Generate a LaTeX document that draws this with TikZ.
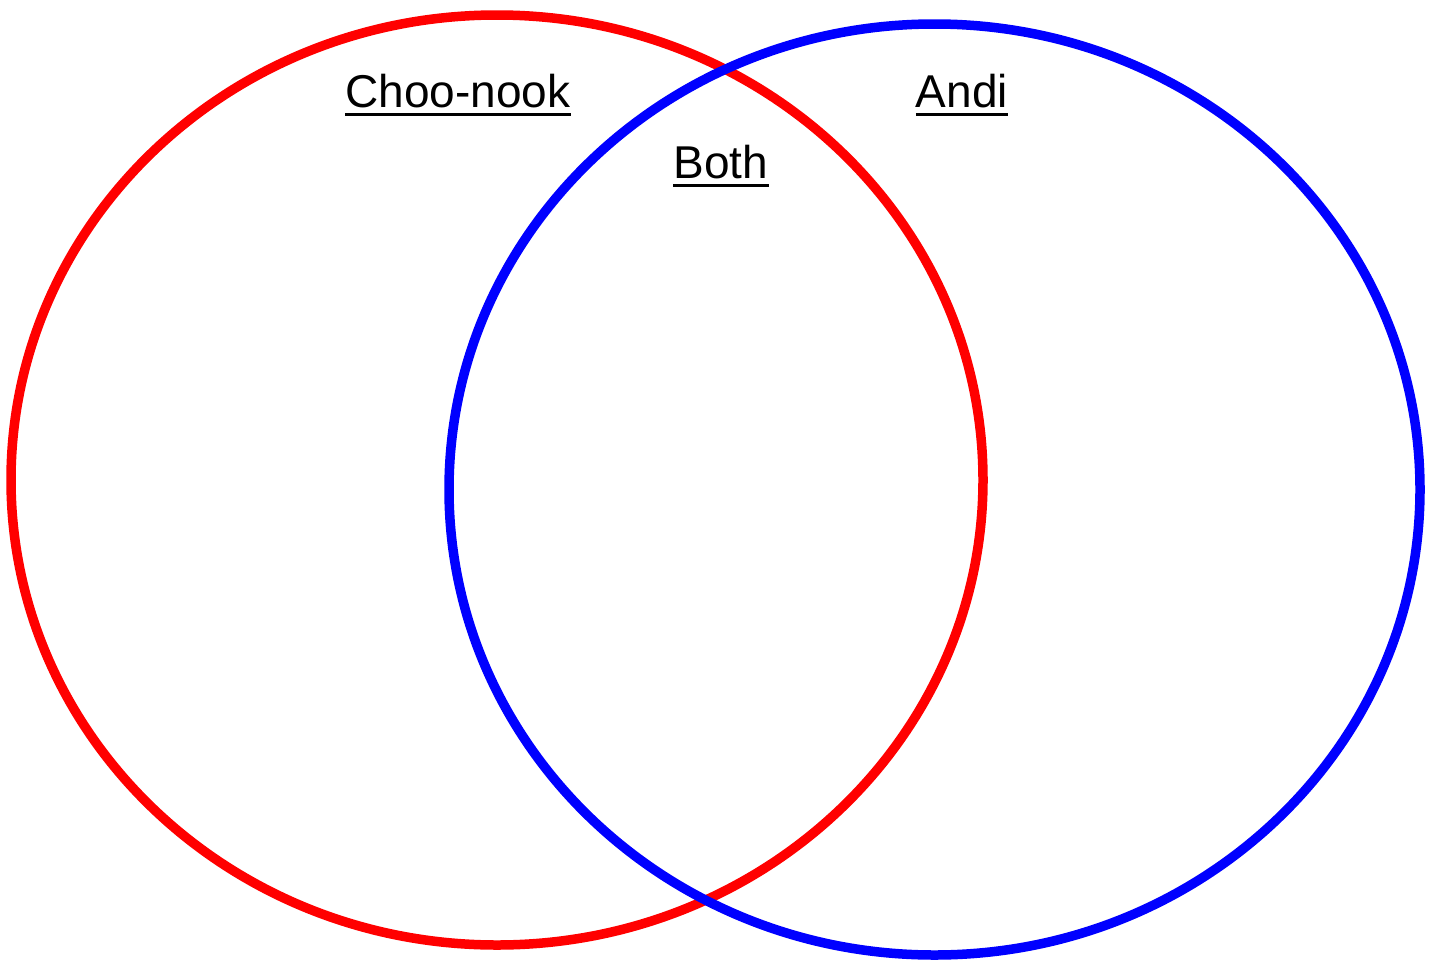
\documentclass[tikz,border=0pt]{standalone}
\usepackage{fontspec}
\setmainfont{Liberation Sans}
\begin{document}
\begin{tikzpicture}[x=1pt,y=-1pt,
  ring/.style={line width=9.5pt},
  lbl/.style={inner sep=0pt, anchor=base, font=\fontsize{46}{50}\selectfont},
  ul/.style={line width=3pt, line cap=butt}]
\useasboundingbox (0,0) rectangle (1434,961);
\draw[ring, color={rgb,255:red,255;green,0;blue,0}] (497,480) ellipse [x radius=486pt, y radius=465pt];
\draw[ring, color={rgb,255:red,0;green,0;blue,255}] (934.5,489.5) ellipse [x radius=485.5pt, y radius=465.5pt];
\node[lbl] (choo) at (458,107) {Choo-nook};
\node[lbl] (andi) at (962,107) {Andi};
\node[lbl] (both) at (721,178) {Both};
\foreach \n in {choo,andi,both}
  \draw[ul] ([yshift=-7.5pt]\n.base west) -- ([yshift=-7.5pt]\n.base east);
\end{tikzpicture}
\end{document}
